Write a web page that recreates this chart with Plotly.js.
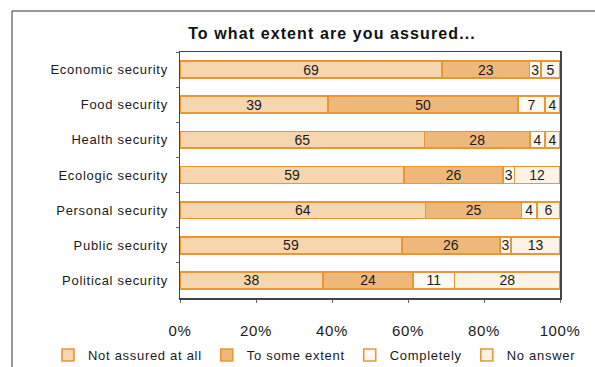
<!DOCTYPE html>
<html>
<head>
<meta charset="utf-8">
<script src="https://cdn.plot.ly/plotly-3.0.1.min.js"></script>
<style>
  html, body { margin: 0; padding: 0; background: #fff; }
  #chart { width: 595px; height: 367px; }
  .gtitle { letter-spacing: 1.1px; }
  .ytick text { letter-spacing: 0.7px; }
  .xtick text { letter-spacing: 0.6px; }
  .legendtext { letter-spacing: 0.7px; }
</style>
</head>
<body>
<div id="chart"></div>
<script>
const categories = ['Economic security', 'Food security', 'Health security', 'Ecologic security', 'Personal security', 'Public security', 'Political security'];
const seriesNames = ['Not assured at all', 'To some extent', 'Completely', 'No answer'];
const notAssured = [69, 39, 65, 59, 64, 59, 38];
const someExtent = [23, 50, 28, 26, 25, 26, 24];
const completely = [3, 7, 4, 3, 4, 3, 11];
const noAnswer = [5, 4, 4, 12, 6, 13, 28];
const xTickVals = [0, 20, 40, 60, 80, 100];
const xTickText = ['0%', '20%', '40%', '60%', '80%', '100%'];

const seriesValues = [notAssured, someExtent, completely, noAnswer];
const fills = ['#F6D6AF', '#EFB87B', '#FFFAF4', '#FCF2E6'];
const FONT = 'Liberation Sans, Arial, sans-serif';

const traces = seriesValues.map((vals, i) => ({
  type: 'bar',
  orientation: 'h',
  name: seriesNames[i],
  y: categories,
  x: vals,
  text: vals.map(String),
  texttemplate: '%{text}',
  textposition: 'inside',
  insidetextanchor: 'middle',
  textangle: 0,
  constraintext: 'none',
  cliponaxis: true,
  textfont: { family: FONT, size: 14, color: '#1a1a1a' },
  marker: { color: fills[i], line: { color: '#EA9632', width: 1.6 } },
  hoverinfo: 'none'
}));

const layout = {
  width: 595,
  height: 367,
  margin: { l: 180, r: 35, t: 52, b: 69, autoexpand: false },
  paper_bgcolor: '#ffffff',
  plot_bgcolor: '#ffffff',
  barmode: 'stack',
  barnorm: 'percent',
  bargap: 0.52,
  uniformtext: { mode: 'show', minsize: 14 },
  font: { family: FONT, color: '#1a1a1a' },
  title: {
    text: 'To what extent are you assured...',
    x: 332 / 595, xref: 'container', xanchor: 'center',
    y: 1 - 33 / 367, yref: 'container', yanchor: 'middle',
    font: { family: FONT, size: 16, weight: 'bold', color: '#111111' }
  },
  xaxis: {
    range: [0, 100],
    tickmode: 'array',
    tickvals: xTickVals,
    ticktext: xTickText,
    showgrid: false,
    zeroline: false,
    showline: true,
    mirror: true,
    linecolor: '#444444',
    linewidth: 1.5,
    ticks: 'outside',
    ticklen: 3,
    tickcolor: '#666666',
    ticklabelstandoff: 15,
    tickfont: { family: FONT, size: 15, color: '#1a1a1a' },
    fixedrange: true
  },
  yaxis: {
    type: 'category',
    autorange: 'reversed',
    showgrid: false,
    zeroline: false,
    showline: true,
    mirror: true,
    linecolor: '#444444',
    linewidth: 1.5,
    ticks: 'outside',
    tickson: 'boundaries',
    ticklen: 3,
    tickcolor: '#666666',
    ticklabelstandoff: 8,
    tickfont: { family: FONT, size: 13, color: '#1a1a1a' },
    fixedrange: true
  },
  showlegend: true,
  legend: {
    orientation: 'h',
    x: (48 - 180) / 380, xanchor: 'left',
    y: -(355 - 298) / 246, yanchor: 'middle',
    font: { family: FONT, size: 13, color: '#1a1a1a' },
    traceorder: 'normal',
    bgcolor: 'rgba(0,0,0,0)'
  },
  shapes: [{
    type: 'rect', xref: 'paper', yref: 'paper',
    x0: (12 - 180) / 380, x1: 1.3,
    y0: -0.6, y1: 1 + (52 - 11) / 246,
    line: { color: '#333333', width: 1 },
    fillcolor: 'rgba(0,0,0,0)',
    layer: 'below'
  }]
};

Plotly.newPlot('chart', traces, layout, { staticPlot: true, displayModeBar: false });
</script>
</body>
</html>
